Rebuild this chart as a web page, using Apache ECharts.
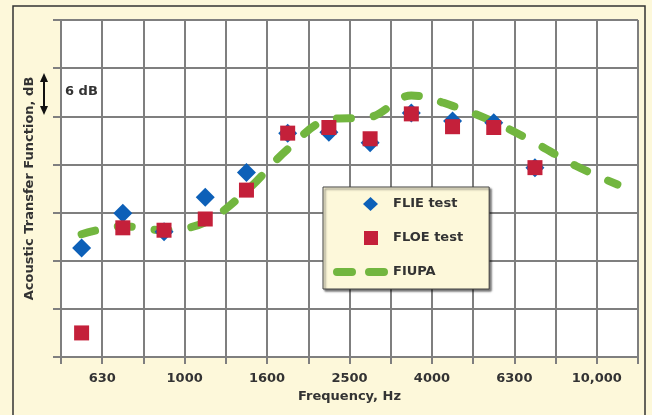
<!DOCTYPE html>
<html>
<head>
<meta charset="utf-8">
<script src="https://cdn.jsdelivr.net/npm/echarts@6/dist/echarts.min.js"></script>
<style>
  html, body { margin: 0; padding: 0; background: #fdf8da; }
  #chart { width: 652px; height: 415px; }
</style>
</head>
<body>
<div id="chart"></div>
<script>
// One-third-octave band edges (Hz) that form the vertical grid
const bandEdges = ['500', '630', '800', '1000', '1250', '1600', '2000', '2500',
                   '3150', '4000', '5000', '6300', '8000', '10,000', '12,500'];
// Edges that carry a tick label
const labeledEdges = ['630', '1000', '1600', '2500', '4000', '6300', '10,000'];

// Measured responses, one value per band (dB, relative)
const flieTest = [13.6, 17.9, 15.6, 19.9, 23.0, 27.9, 28.0, 26.7, 30.4, 29.4, 29.2, 23.6];
const floeTest = [3.0, 16.1, 15.8, 17.2, 20.8, 27.9, 28.6, 27.2, 30.3, 28.7, 28.6, 23.6];
// Predicted response
const fiupa = [15.3, 16.3, 15.8, 16.8, 20.7, 25.9, 29.6, 29.9, 32.6, 31.3, 29.3, 26.7, 23.8, 21.5];

const FONT = '"DejaVu Sans", Verdana, sans-serif';
const TEXT_COLOR = '#333';
const GRID_COLOR = '#7f7f7f';
const BLUE = '#0d60b8';
const RED = '#c4203a';
const GREEN = '#72b63f';

// Legend icons: each path spans the full 55x14 icon box (the leading moves
// fix the box) so the shapes keep their own proportions.
const ICON_DIAMOND = 'path://M0,0M55,14M37.5,0L45,7L37.5,14L30,7Z';
const ICON_SQUARE = 'path://M0,0M55,14M31,0L45,0L45,14L31,14Z';
const ICON_DASHES = 'path://M0,0M55,14M4,3L19,3A4,4,0,0,1,19,11L4,11A4,4,0,0,1,4,3Z' +
                    'M36,3L51,3A4,4,0,0,1,51,11L36,11A4,4,0,0,1,36,3Z';

// Points sit in the middle of each band
const toPoints = arr => arr.map((v, i) => [i + 0.5, v]);

const chart = echarts.init(document.getElementById('chart'), null, { renderer: 'canvas' });

const textStyle = { fontFamily: FONT, fontSize: 13, fontWeight: 'bold', color: TEXT_COLOR };

chart.setOption({
  backgroundColor: '#fdf8da',
  animation: false,
  grid: {
    left: 61, right: 14, top: 20, bottom: 58,
    show: true, backgroundColor: '#ffffff', borderWidth: 0
  },
  xAxis: {
    type: 'value', min: 0, max: bandEdges.length - 1, interval: 1,
    name: 'Frequency, Hz', nameLocation: 'middle', nameGap: 33,
    nameTextStyle: textStyle,
    axisLine: { show: true, lineStyle: { color: GRID_COLOR, width: 2 } },
    axisTick: { show: true, length: 7, lineStyle: { color: GRID_COLOR, width: 2 } },
    splitLine: { show: true, lineStyle: { color: GRID_COLOR, width: 2 } },
    axisLabel: Object.assign({
      margin: 15,
      formatter: v => {
        const name = bandEdges[Math.round(v)];
        return labeledEdges.includes(name) ? name : '';
      }
    }, textStyle)
  },
  yAxis: {
    type: 'value', min: 0, max: 42, interval: 6,
    name: 'Acoustic Transfer Function, dB', nameLocation: 'middle', nameGap: 25,
    nameRotate: 90,
    nameTextStyle: Object.assign({ padding: [0, 0, 0, 0] }, textStyle),
    axisLine: { show: true, lineStyle: { color: GRID_COLOR, width: 2 } },
    axisTick: { show: true, length: 8, lineStyle: { color: GRID_COLOR, width: 2 } },
    splitLine: { show: true, lineStyle: { color: GRID_COLOR, width: 2 } },
    axisLabel: { show: false }
  },
  legend: {
    orient: 'vertical', left: 323, top: 187,
    padding: [10, 26, 10, 10],
    itemWidth: 55, itemHeight: 14, itemGap: 20,
    backgroundColor: '#fdf8da', borderColor: '#444', borderWidth: 1,
    shadowColor: 'rgba(0,0,0,0.55)', shadowBlur: 2, shadowOffsetX: 2, shadowOffsetY: 2,
    textStyle: textStyle,
    data: [
      { name: 'FLIE test', icon: ICON_DIAMOND },
      { name: 'FLOE test', icon: ICON_SQUARE },
      { name: 'FIUPA', icon: ICON_DASHES }
    ]
  },
  graphic: [
    // outer frame
    { type: 'rect', shape: { x: 13, y: 6, width: 632, height: 420 },
      style: { fill: 'none', stroke: '#333', lineWidth: 1.5 }, silent: true },
    // 6 dB scale marker
    { type: 'line', shape: { x1: 44, y1: 79, x2: 44, y2: 109 },
      style: { stroke: '#111', lineWidth: 2 } },
    { type: 'polygon', shape: { points: [[44, 73], [40, 82], [48, 82]] }, style: { fill: '#111' } },
    { type: 'polygon', shape: { points: [[44, 115], [40, 106], [48, 106]] }, style: { fill: '#111' } },
    { type: 'text', left: 65, top: 85,
      style: { text: '6 dB', font: 'bold 13px "DejaVu Sans", Verdana, sans-serif', fill: TEXT_COLOR } }
  ],
  series: [
    {
      name: 'FIUPA', type: 'line', data: toPoints(fiupa), smooth: 0.35,
      symbol: 'none', z: 2,
      lineStyle: { color: GREEN, width: 8, type: [14, 23], cap: 'round' },
      itemStyle: { color: GREEN, borderWidth: 0 }
    },
    {
      name: 'FLIE test', type: 'scatter', data: toPoints(flieTest),
      symbol: 'diamond', symbolSize: [19, 19], z: 3,
      itemStyle: { color: BLUE, opacity: 1 }
    },
    {
      name: 'FLOE test', type: 'scatter', data: toPoints(floeTest),
      symbol: 'rect', symbolSize: 15, z: 4,
      itemStyle: { color: RED, opacity: 1 }
    }
  ]
});
</script>
</body>
</html>
